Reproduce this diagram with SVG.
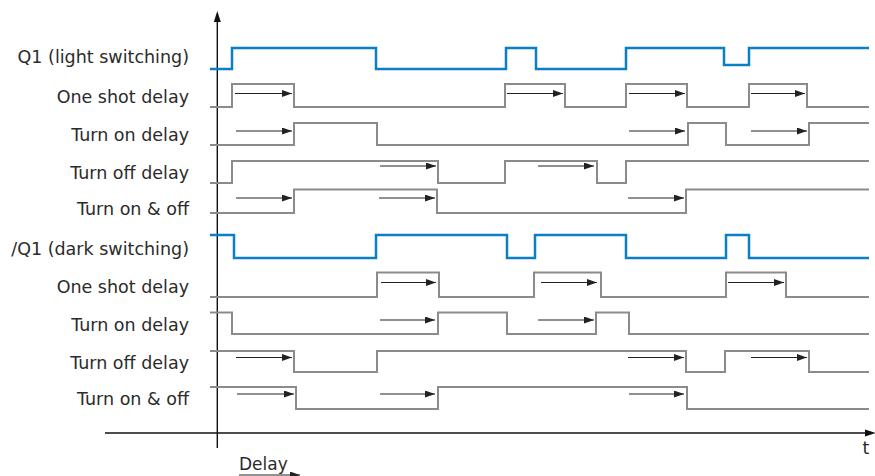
<svg xmlns="http://www.w3.org/2000/svg" width="875" height="476" viewBox="0 0 875 476">
  <defs>
    <marker id="head" markerUnits="userSpaceOnUse" markerWidth="11" markerHeight="7" refX="10" refY="3.5" orient="auto">
      <path d="M0,0 L10,3.5 L0,7 z" fill="#222"/>
    </marker>
    <style>
      .lbl { font-family: "DejaVu Sans", "Liberation Sans", sans-serif; font-size: 17.5px; fill: #2b2b2b; text-anchor: end; }
      .gray { fill: none; stroke: #8b8b8d; stroke-width: 2; stroke-linejoin: miter; }
      .blue { fill: none; stroke: #0b7fc5; stroke-width: 2.5; stroke-linejoin: miter; }
      .delay { stroke: #222; stroke-width: 1.2; marker-end: url(#head); }
      .axis { stroke: #111; stroke-width: 1.4; fill: none; }
    </style>
  </defs>
  <rect width="875" height="476" fill="#fff"/>

  <!-- axes -->
  <g id="axes">
    <line class="axis" x1="217.3" y1="20" x2="217.3" y2="448"/>
    <path d="M217.3,11 L220.8,22 L213.8,22 z" fill="#111"/>
    <line class="axis" x1="105" y1="433" x2="868" y2="433"/>
    <path d="M876,433 L865,429.5 L865,436.5 z" fill="#111"/>
    <text x="866" y="454" font-family="DejaVu Sans, Liberation Sans, sans-serif" font-size="17.5" fill="#2b2b2b" text-anchor="middle">t</text>
  </g>

  <!-- Q1 light switching -->
  <g id="q1">
    <text class="lbl" x="189" y="63">Q1 (light switching)</text>
    <path class="blue" d="M210,69 H232 V48 H376 V69 H506 V48 H536 V69 H626 V48 H724 V65 H749 V48 H869"/>
  </g>
  <g id="q1-one-shot">
    <text class="lbl" x="189" y="102.5">One shot delay</text>
    <path class="gray" d="M210,107 H232 V84 H294 V107 H505 V84 H565 V107 H626 V84 H687 V107 H749 V84 H807 V107 H869"/>
  </g>
  <g id="q1-turn-on">
    <text class="lbl" x="189" y="141">Turn on delay</text>
    <path class="gray" d="M210,145 H294 V123 H377 V145 H688 V123 H726 V145 H809 V123 H869"/>
  </g>
  <g id="q1-turn-off">
    <text class="lbl" x="189" y="178.5">Turn off delay</text>
    <path class="gray" d="M210,183 H232 V161 H438 V183 H505 V161 H597 V183 H626 V161 H869"/>
  </g>
  <g id="q1-turn-on-off">
    <text class="lbl" x="189" y="215">Turn on &amp; off</text>
    <path class="gray" d="M210,213 H294 V189.5 H437 V213 H686 V189.5 H869"/>
  </g>

  <!-- /Q1 dark switching -->
  <g id="nq1">
    <text class="lbl" x="189" y="254.5">/Q1 (dark switching)</text>
    <path class="blue" d="M210,235 H234 V258 H376 V235 H507 V258 H535 V235 H626 V258 H726 V235 H749 V258 H869"/>
  </g>
  <g id="nq1-one-shot">
    <text class="lbl" x="189" y="292.5">One shot delay</text>
    <path class="gray" d="M210,297 H377 V272.5 H439 V297 H534 V272.5 H601 V297 H726 V272.5 H786 V297 H869"/>
  </g>
  <g id="nq1-turn-on">
    <text class="lbl" x="189" y="331">Turn on delay</text>
    <path class="gray" d="M210,312.5 H232 V334 H438 V312.5 H507 V334 H596 V312.5 H629 V334 H869"/>
  </g>
  <g id="nq1-turn-off">
    <text class="lbl" x="189" y="369">Turn off delay</text>
    <path class="gray" d="M210,351 H294 V372 H377 V351 H686 V372 H725 V351 H809 V372 H869"/>
  </g>
  <g id="nq1-turn-on-off">
    <text class="lbl" x="189" y="405">Turn on &amp; off</text>
    <path class="gray" d="M210,387 H296 V409 H438 V387 H687 V409 H869"/>
  </g>

  <!-- delay arrows -->
  <g id="connectors">
    <line class="delay" x1="235" y1="93.5" x2="292" y2="93.5"/>
    <line class="delay" x1="507" y1="93.5" x2="563" y2="93.5"/>
    <line class="delay" x1="629" y1="93.5" x2="685" y2="93.5"/>
    <line class="delay" x1="751" y1="93.5" x2="805" y2="93.5"/>

    <line class="delay" x1="236" y1="131" x2="292" y2="131"/>
    <line class="delay" x1="629" y1="131" x2="685" y2="131"/>
    <line class="delay" x1="751" y1="131" x2="807" y2="131"/>

    <line class="delay" x1="380" y1="166" x2="436" y2="166"/>
    <line class="delay" x1="538" y1="166" x2="594" y2="166"/>

    <line class="delay" x1="236" y1="198" x2="292" y2="198"/>
    <line class="delay" x1="379" y1="198" x2="435" y2="198"/>
    <line class="delay" x1="628" y1="198" x2="684" y2="198"/>

    <line class="delay" x1="381" y1="282.5" x2="436" y2="282.5"/>
    <line class="delay" x1="541" y1="282.5" x2="597" y2="282.5"/>
    <line class="delay" x1="728" y1="282.5" x2="784" y2="282.5"/>

    <line class="delay" x1="380" y1="320" x2="435" y2="320"/>
    <line class="delay" x1="538" y1="320" x2="594" y2="320"/>

    <line class="delay" x1="236" y1="357.5" x2="292" y2="357.5"/>
    <line class="delay" x1="628" y1="357.5" x2="684" y2="357.5"/>
    <line class="delay" x1="751" y1="357.5" x2="807" y2="357.5"/>

    <line class="delay" x1="237" y1="394" x2="294" y2="394"/>
    <line class="delay" x1="380" y1="394" x2="435" y2="394"/>
    <line class="delay" x1="629" y1="394" x2="684" y2="394"/>

    <line class="delay" x1="239" y1="475" x2="300" y2="475"/>
  </g>

  <g id="delay-legend">
    <text x="239" y="469.5" font-family="DejaVu Sans, Liberation Sans, sans-serif" font-size="17" fill="#2b2b2b">Delay</text>
  </g>
</svg>
